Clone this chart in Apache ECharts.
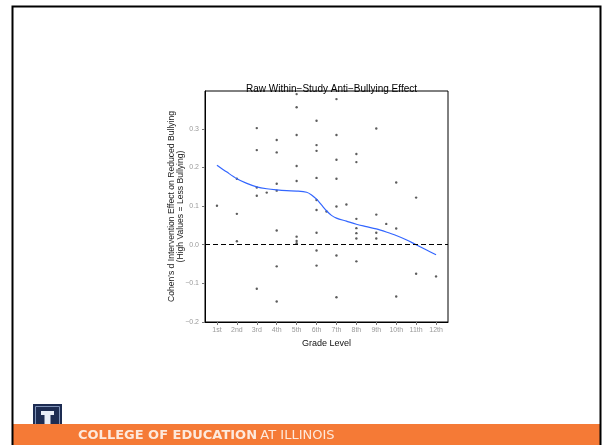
<!DOCTYPE html>
<html>
<head>
<meta charset="utf-8">
<script src="https://cdn.jsdelivr.net/npm/echarts@6/dist/echarts.min.js"></script>
<style>
  html, body { margin: 0; padding: 0; background: #fff; }
  #chart { width: 602px; height: 445px; }
</style>
</head>
<body>
<div id="chart"></div>
<script>
// Grade positions (numeric) and their axis labels
const gradeTicks = [1, 2, 3, 4, 5, 6, 7, 8, 9, 10, 11, 12];
const gradeLabels = ['1st', '2nd', '3rd', '4th', '5th', '6th', '7th', '8th', '9th', '10th', '11th', '12th'];
const effectTicks = [-0.2, -0.1, 0.0, 0.1, 0.2, 0.3];

// Individual study effects: grade level and Cohen's d
const studyGrade = [
  1,
  2, 2, 2,
  3, 3, 3, 3, 3,
  3.5,
  4, 4, 4, 4, 4, 4, 4,
  5, 5, 5, 5, 5, 5, 5, 5,
  6, 6, 6, 6, 6, 6, 6, 6, 6,
  6.5,
  7, 7, 7, 7, 7, 7, 7,
  7.5,
  8, 8, 8, 8, 8, 8, 8,
  9, 9, 9, 9,
  9.5,
  10, 10, 10,
  11, 11,
  12
];
const studyEffect = [
  0.101,
  0.171, 0.080, 0.009,
  0.302, 0.245, 0.148, 0.127, -0.114,
  0.135,
  0.271, 0.239, 0.158, 0.140, 0.037, -0.056, -0.147,
  0.390, 0.356, 0.284, 0.204, 0.165, 0.021, 0.010, 0.004,
  0.321, 0.258, 0.243, 0.173, 0.116, 0.090, 0.031, -0.015, -0.054,
  0.086,
  0.377, 0.284, 0.220, 0.171, 0.099, -0.028, -0.136,
  0.104,
  0.235, 0.214, 0.067, 0.043, 0.030, 0.016, -0.043,
  0.301, 0.078, 0.031, 0.016,
  0.054,
  0.161, 0.042, -0.134,
  0.122, -0.075,
  -0.082
];

// Smoothed trend of the effect across grades
const trendGrade = [1, 1.5, 2, 2.5, 3, 3.5, 4, 4.5, 5, 5.5, 5.75, 6, 6.25, 6.5, 6.75, 7, 7.5, 8, 8.5, 9, 9.5, 10, 10.5, 11, 11.5, 12];
const trendEffect = [0.206, 0.188, 0.171, 0.159, 0.150, 0.145, 0.142, 0.140, 0.139, 0.136, 0.129, 0.118, 0.103, 0.088, 0.076, 0.069, 0.061, 0.053, 0.047, 0.041, 0.033, 0.024, 0.013, 0.000, -0.013, -0.026];

const points = studyGrade.map((g, i) => [g, studyEffect[i]]);
const trend = trendGrade.map((g, i) => [g, trendEffect[i]]);

const fmtEffect = v => v.toFixed(1).replace('-', '\u2212');

const chart = echarts.init(document.getElementById('chart'), null, { renderer: 'canvas' });

const option = {
  backgroundColor: '#ffffff',
  animation: false,
  title: {
    text: 'Raw Within\u2212Study Anti\u2212Bullying Effect',
    left: 326.5,
    textAlign: 'center',
    top: 79,
    textStyle: { fontFamily: 'Liberation Sans, Arial, sans-serif', fontSize: 10, fontWeight: 'normal', color: '#000' }
  },
  grid: {
    left: 205, right: 154, top: 91, bottom: 123,
    show: true, borderColor: '#000', borderWidth: 1, backgroundColor: 'transparent'
  },
  xAxis: {
    type: 'value',
    min: 0.4, max: 12.6,
    name: 'Grade Level',
    nameLocation: 'middle',
    nameGap: 13,
    nameTextStyle: { fontFamily: 'Liberation Sans, Arial, sans-serif', fontSize: 9, color: '#111' },
    axisLine: { show: true, onZero: false, lineStyle: { color: '#000', width: 1 } },
    axisTick: { show: true, length: 3, customValues: gradeTicks, lineStyle: { color: '#777' } },
    axisLabel: {
      customValues: gradeTicks,
      margin: 5,
      fontFamily: 'Liberation Sans, Arial, sans-serif', fontSize: 7, color: '#9a9a9a',
      formatter: v => gradeLabels[gradeTicks.indexOf(Math.round(v))] || ''
    },
    splitLine: { show: false }
  },
  yAxis: {
    type: 'value',
    min: -0.2, max: 0.398,
    axisLine: { show: true, onZero: false, lineStyle: { color: '#000', width: 1 } },
    axisTick: { show: true, length: 3, customValues: effectTicks, lineStyle: { color: '#777' } },
    axisLabel: {
      customValues: effectTicks,
      margin: 6,
      fontFamily: 'Liberation Sans, Arial, sans-serif', fontSize: 7, color: '#9a9a9a',
      formatter: v => fmtEffect(v)
    },
    splitLine: { show: false }
  },
  series: [
    {
      type: 'scatter',
      data: points,
      symbol: 'circle',
      symbolSize: 2.4,
      itemStyle: { color: '#333' },
      markLine: {
        silent: true,
        symbol: ['none', 'none'],
        label: { show: false },
        lineStyle: { color: '#000', type: [5, 3], width: 1.2 },
        data: [{ yAxis: 0 }]
      },
      z: 3
    },
    {
      type: 'line',
      data: trend,
      smooth: 0.3,
      showSymbol: false,
      lineStyle: { color: '#3366FF', width: 1.2 },
      z: 4
    }
  ],
  graphic: [
    // y-axis title, two rotated lines
    {
      type: 'text', x: 172, y: 206.5, rotation: Math.PI / 2,
      style: {
        text: "Cohen's d Intervention Effect on Reduced Bullying",
        font: '8.6px "Liberation Sans", Arial, sans-serif', fill: '#222',
        textAlign: 'center', textVerticalAlign: 'middle'
      }
    },
    {
      type: 'text', x: 181, y: 206.5, rotation: Math.PI / 2,
      style: {
        text: '(High Values = Less Bullying)',
        font: '8.6px "Liberation Sans", Arial, sans-serif', fill: '#222',
        textAlign: 'center', textVerticalAlign: 'middle'
      }
    },
    // footer band
    {
      type: 'rect', shape: { x: 13, y: 424, width: 588, height: 22 },
      style: { fill: '#F57A36' }, z: 10
    },
    // slide frame
    {
      type: 'rect', shape: { x: 12.5, y: 6.5, width: 588, height: 445 },
      style: { fill: 'none', stroke: '#000', lineWidth: 2 }, z: 11
    },
    // block I mark
    {
      type: 'group', x: 33, y: 404, z: 12,
      children: [
        { type: 'rect', shape: { x: 0, y: 0, width: 29, height: 41 }, style: { fill: '#1D2C52' } },
        { type: 'rect', shape: { x: 2.5, y: 2.5, width: 24, height: 36 }, style: { fill: 'none', stroke: '#7f93b8', lineWidth: 1 } },
        { type: 'rect', shape: { x: 8, y: 7, width: 13, height: 4 }, style: { fill: '#e8edf6' } },
        { type: 'rect', shape: { x: 11.5, y: 10, width: 6, height: 20 }, style: { fill: '#e8edf6' } },
        { type: 'rect', shape: { x: 8, y: 29, width: 13, height: 4 }, style: { fill: '#e8edf6' } }
      ]
    },
    {
      type: 'text', x: 78, y: 436, z: 12,
      style: {
        text: '{b|COLLEGE OF EDUCATION} {r|AT ILLINOIS}',
        textVerticalAlign: 'middle',
        rich: {
          b: { fontFamily: 'DejaVu Sans, sans-serif', fontWeight: 'bold', fontSize: 13, fill: '#fde9dc' },
          r: { fontFamily: 'DejaVu Sans, sans-serif', fontWeight: 'normal', fontSize: 13, fill: '#fde9dc' }
        }
      }
    }
  ]
};

chart.setOption(option);
</script>
</body>
</html>
